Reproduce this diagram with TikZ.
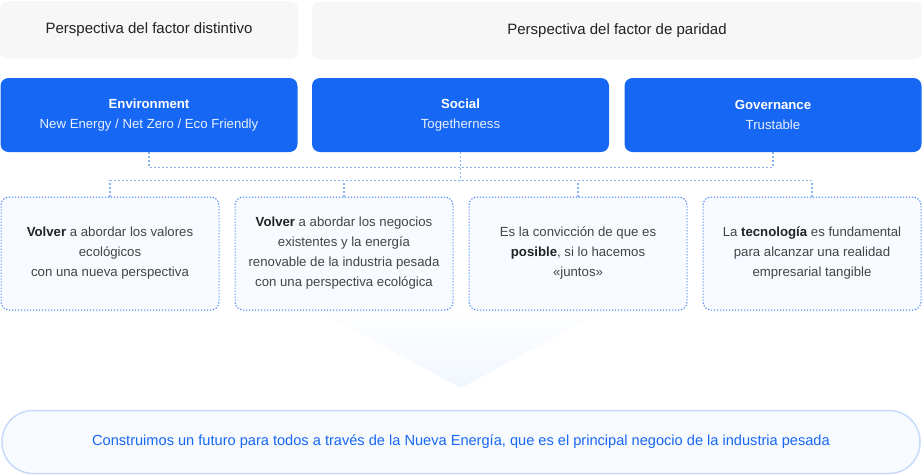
\documentclass[tikz,border=0pt]{standalone}
\usepackage{fontspec}
\setmainfont{Liberation Sans}
\usetikzlibrary{calc}
\definecolor{esgblue}{HTML}{1767F5}
\definecolor{headgray}{HTML}{F7F7F7}
\definecolor{cardfill}{HTML}{F7FAFF}
\definecolor{carddots}{HTML}{2F77F4}
\definecolor{linkblue}{HTML}{8AB2F6}
\definecolor{pillline}{HTML}{C8DAFA}
\definecolor{bodytext}{HTML}{444444}
\definecolor{darktext}{HTML}{222222}

\begin{document}
\begin{tikzpicture}[
  x=1pt,
  y=-1pt,
  head/.style={
    fill=headgray,
    rounded corners=8pt,
    minimum height=58pt,
    text=darktext,
    font=\fontsize{15}{18}\selectfont
  },
  pillar/.style={
    fill=esgblue,
    rounded corners=8pt,
    minimum height=74pt,
    minimum width=297pt,
    text=white,
    align=center,
    font=\fontsize{13.2}{20}\selectfont
  },
  card/.style={
    draw=carddots,
    fill=cardfill,
    line width=1pt,
    dash pattern=on 1.2pt off 1.8pt,
    rounded corners=8pt,
    minimum width=218pt,
    minimum height=113pt,
    text=bodytext,
    align=center,
    font=\fontsize{13.2}{20}\selectfont,
    execute at begin node=\rule{0pt}{15pt}
  },
  link/.style={
    draw=linkblue,
    line width=1.3pt,
    dash pattern=on 2pt off 2pt
  },
]
\useasboundingbox (0,0) rectangle (922,475);

\node[head, minimum width=298pt] (factA) at (149,30) {Perspectiva del factor distintivo};
\node[head, minimum width=610pt] (factB) at (617,30.5) {Perspectiva del factor de paridad};

\node[pillar] (env) at (149,115) {\textbf{Environment}\\{\color{white!90!esgblue}New Energy / Net Zero / Eco Friendly}};
\node[pillar] (soc) at (460.5,115) {\textbf{Social}\\{\color{white!90!esgblue}Togetherness}};
\node[pillar] (gov) at (773,115) {\textbf{Governance}\\{\color{white!90!esgblue}Trustable}};

\shade[top color=white, bottom color=esgblue!6] (307,305) -- (461,388) -- (614,305) -- cycle;

\node[card] (val) at (110,253.5) {{\color{darktext}\textbf{Volver}} a abordar los valores\\ecológicos\\con una nueva perspectiva};
\node[card] (neg) at (344,253.5) {{\color{darktext}\textbf{Volver}} a abordar los negocios\\existentes y la energía\\renovable de la industria pesada\\con una perspectiva ecológica};
\node[card] (jun) at (578,253.5) {Es la convicción de que es\\{\color{darktext}\textbf{posible}}, si lo hacemos\\«juntos»};
\node[card] (tec) at (812,253.5) {La {\color{darktext}\textbf{tecnología}} es fundamental\\para alcanzar una realidad\\empresarial tangible};

\coordinate (bus) at (460.5,181);
\draw[link] (env.south) -- ++(0,15) -| (gov.south);
\draw[link] (soc.south) -- (bus);
\draw[link] (val.north) -- ++(0,-16) -| (tec.north);
\draw[link] (neg.north) -- (neg.north |- bus);
\draw[link] (jun.north) -- (jun.north |- bus);

\node[draw=pillline, fill=cardfill, line width=1.5pt, rounded corners=31pt,
  minimum width=918pt, minimum height=63pt, text=esgblue,
  font=\fontsize{14.6}{18}\selectfont] (goal) at (461,442)
  {Construimos un futuro para todos a través de la Nueva Energía, que es el principal negocio de la industria pesada};
\end{tikzpicture}
\end{document}
